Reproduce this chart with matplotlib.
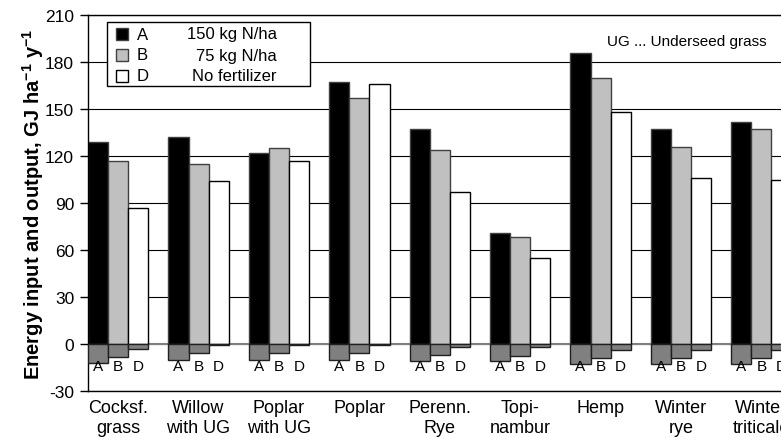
import numpy as np
import matplotlib
matplotlib.use("Agg")
import matplotlib.pyplot as plt
from matplotlib.patches import Rectangle

plt.rcParams["font.family"] = ["Liberation Sans", "DejaVu Sans"]
plt.rcParams["axes.unicode_minus"] = False

# crops and energy values (GJ/ha/y)
crops = ["Cocksf.\ngrass", "Willow\nwith UG", "Poplar\nwith UG", "Poplar",
         "Perenn.\nRye", "Topi-\nnambur", "Hemp", "Winter\nrye", "Winter\ntriticale"]
output_a = [129, 132, 122, 167, 137, 71, 186, 137, 142]
output_b = [117, 115, 125, 157, 124, 68, 170, 126, 137]
output_d = [87, 104, 117, 166, 97, 55, 148, 106, 105]
input_a = [-12, -10, -10, -10, -11, -11, -13, -13, -13]
input_b = [-8, -5.5, -5.5, -5.5, -7, -7.5, -9, -9, -9]
input_d = [-3, -0.5, -0.5, -0.5, -2, -2, -4, -4, -4]
series_letters = ["A", "B", "D"]
series_names = ["150 kg N/ha", "75 kg N/ha", "No fertilizer"]
yticks = [-30, 0, 30, 60, 90, 120, 150, 180, 210]

W, H = 781, 439
fig = plt.figure(figsize=(W / 100, H / 100), dpi=100)
slot = 80.4
ax = fig.add_axes([88 / W, (H - 392) / H, 9 * slot / W, (392 - 16) / H])

x = np.arange(len(crops))
bw = 0.25
offsets = [-bw, 0, bw]
colors = ["black", "#c0c0c0", "white"]
edges = ["#404040", "#404040", "black"]

for off, vals, c, ec in zip(offsets, [output_a, output_b, output_d], colors, edges):
    ax.bar(x + off, vals, bw, color=c, edgecolor=ec, lw=1, zorder=2)

ax.axhline(0, color="#808080", lw=1.5, zorder=1.5)

for off, vals, letter in zip(offsets, [input_a, input_b, input_d], series_letters):
    ax.bar(x + off, vals, bw, color="#808080", edgecolor="#202020", lw=1, zorder=3)
    for xi in x:
        ax.text(xi + off, -14, letter, ha="center", va="center", fontsize=11, zorder=4)

ax.set_xlim(-0.375, 8.625)
ax.set_ylim(-30, 210)
ax.set_yticks(yticks)
ax.yaxis.grid(True, color="black", lw=0.8)
ax.set_axisbelow(True)
ax.tick_params(axis="y", direction="out", length=6, width=1, labelsize=12.5, pad=4)
ax.set_xticks(x)
ax.set_xticklabels(crops, fontsize=13, linespacing=1.2)
ax.tick_params(axis="x", length=0, pad=6)
for s in ["left", "bottom", "top"]:
    ax.spines[s].set_color("black")
    ax.spines[s].set_linewidth(1)
ax.spines["right"].set_visible(False)

ax.set_ylabel("Energy input and output, GJ ha$^{\\mathregular{-1}}$ y$^{\\mathregular{-1}}$",
              fontsize=14.5, fontweight="bold")
ax.yaxis.set_label_coords(-42 / (9 * slot), 0.5)

# legend box drawn in figure pixels
def px(xp, yp):
    return xp / W, 1 - yp / H

fig.patches.append(Rectangle(px(107, 87), 203 / W, 64 / H, transform=fig.transFigure,
                             facecolor="white", edgecolor="black", lw=1, zorder=5))
for i, (c, ec, letter, name) in enumerate(zip(colors, edges, series_letters, series_names)):
    yc = 35 + 21 * i
    fig.patches.append(Rectangle(px(116, yc + 6), 12 / W, 12 / H, transform=fig.transFigure,
                                 facecolor=c, edgecolor=ec, lw=1, zorder=6))
    fig.text(*px(137, yc), letter, fontsize=12, va="center", ha="left", zorder=6)
    fig.text(*px(277, yc), name, fontsize=12, va="center", ha="right", zorder=6)

fig.text(607 / W, 1 - 42 / H, "UG ... Underseed grass", fontsize=11, va="center", ha="left")

fig.savefig("out.png", dpi=100)
